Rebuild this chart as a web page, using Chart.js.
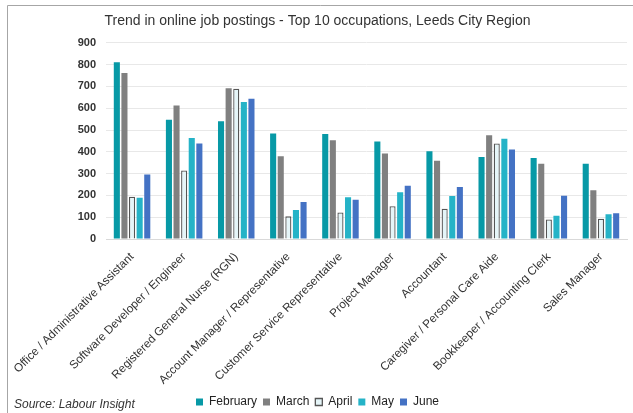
<!DOCTYPE html>
<html>
<head>
<meta charset="utf-8">
<script src="https://cdn.jsdelivr.net/npm/chart.js@4/dist/chart.umd.min.js"></script>
<style>
  html, body { margin: 0; padding: 0; background: #fff; }
  #wrap { width: 633px; height: 413px; position: relative; }
</style>
</head>
<body>
<div id="wrap"><canvas id="bar_chart" width="633" height="413"></canvas></div>
<script>
// occupations (x axis)
var occupations = [
  "Office / Administrative Assistant",
  "Software Developer / Engineer",
  "Registered General Nurse (RGN)",
  "Account Manager / Representative",
  "Customer Service Representative",
  "Project Manager",
  "Accountant",
  "Caregiver / Personal Care Aide",
  "Bookkeeper / Accounting Clerk",
  "Sales Manager"
];

// monthly job postings
var february = [811, 547, 540, 484, 482, 447, 403, 376, 371, 345];
var march    = [762, 612, 692, 380, 453, 392, 359, 476, 345, 224];
var april    = [194, 314, 689, 104, 122, 150, 139, 438,  90,  93];
var may      = [189, 463, 629, 133, 192, 214, 197, 460, 107, 113];
var june     = [296, 438, 643, 170, 180, 244, 238, 411, 198, 118];

var y_ticks = [0, 100, 200, 300, 400, 500, 600, 700, 800, 900];

var font_family = "'Liberation Sans', Arial, sans-serif";

// frame round the picture + source note, legend nudged down a little
var extras = {
  id: 'extras',
  afterLayout: function(chart) {
    chart.legend.top += 5;
    chart.legend.bottom += 5;
  },
  beforeDraw: function(chart) {
    var c = chart.ctx;
    c.save();
    c.strokeStyle = '#a6a6a6';
    c.lineWidth = 1;
    c.beginPath();
    c.moveTo(7.5, 413);
    c.lineTo(7.5, 5.5);
    c.lineTo(633, 5.5);
    c.stroke();
    c.restore();
  },
  afterDraw: function(chart) {
    var c = chart.ctx;
    c.save();
    c.font = "italic 12px " + font_family;
    c.fillStyle = '#333333';
    c.textBaseline = 'middle';
    c.fillText("Source: Labour Insight", 14, 405);
    c.restore();
  }
};

var ctx = document.getElementById("bar_chart");
var bar_chart = new Chart(ctx, {
  type: 'bar',
  data: {
    labels: occupations,
    datasets: [
      { label: "February", data: february, backgroundColor: "#0799a6", borderWidth: 0 },
      { label: "March",    data: march,    backgroundColor: "#808080", borderWidth: 0 },
      { label: "April",    data: april,    backgroundColor: "#e5f5f8", borderColor: "#555555", borderWidth: 1.3 },
      { label: "May",      data: may,      backgroundColor: "#25b3c7", borderWidth: 0 },
      { label: "June",     data: june,     backgroundColor: "#4472c4", borderWidth: 0 }
    ]
  },
  options: {
    responsive: false,
    animation: false,
    categoryPercentage: 0.73,
    barPercentage: 0.8,
    layout: { padding: { left: 8, right: 6, top: 6, bottom: 0 } },
    plugins: {
      title: {
        display: true,
        text: "Trend in online job postings - Top 10 occupations, Leeds City Region",
        color: '#333333',
        font: { family: font_family, size: 14, weight: 'normal' },
        padding: { top: 7, bottom: 13 }
      },
      legend: {
        position: 'bottom',
        labels: {
          boxWidth: 7,
          boxHeight: 7,
          padding: 6,
          color: '#222222',
          font: { family: font_family, size: 12 }
        }
      },
      tooltip: { enabled: false }
    },
    scales: {
      x: {
        grid: { display: false },
        border: { color: '#d9d9d9' },
        ticks: {
          autoSkip: false,
          minRotation: 45,
          maxRotation: 45,
          color: '#333333',
          font: { family: font_family, size: 11.7 }
        },
        afterFit: function(scale) { scale.height = 146; }
      },
      y: {
        min: 0,
        max: 900,
        afterBuildTicks: function(scale) {
          scale.ticks = y_ticks.map(function(v) { return { value: v }; });
        },
        grid: { color: '#e8e8e8', drawTicks: false },
        border: { display: false },
        ticks: {
          padding: 10,
          color: '#333333',
          font: { family: font_family, size: 11, weight: 'bold' }
        },
        afterFit: function(scale) { scale.width = 98; }
      }
    }
  },
  plugins: [extras]
});
</script>
</body>
</html>
